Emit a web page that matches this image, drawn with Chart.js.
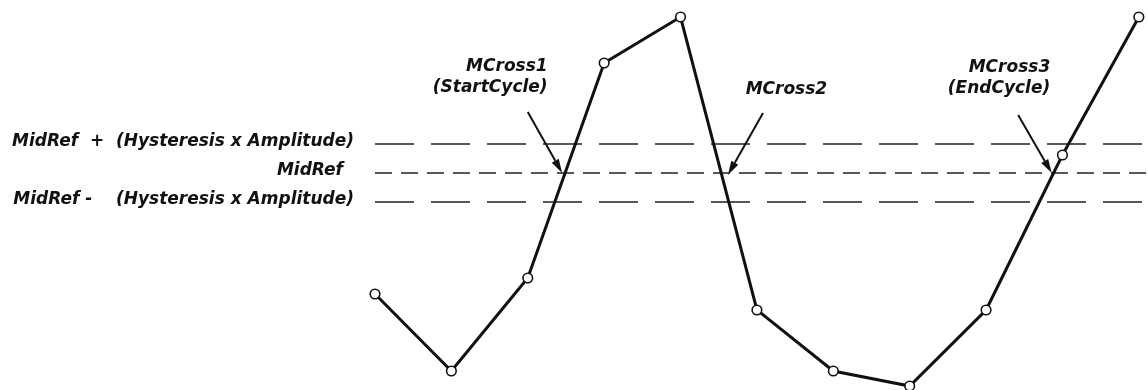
<!DOCTYPE html>
<html>
<head>
<meta charset="utf-8">
<script src="https://cdn.jsdelivr.net/npm/chart.js@4/dist/chart.umd.min.js"></script>
<style>
  html, body { margin: 0; padding: 0; background: #fff; }
  #wrap { width: 1148px; height: 390px; position: relative; }
</style>
</head>
<body>
<div id="wrap"><canvas id="chart_canvas"></canvas></div>
<script>
// sample index along the cycle, and the measured signal at each sample
const steps = [0, 1, 2, 3, 4, 5, 6, 7, 8, 9, 10];
const signal = [-121, -198, -105, 110, 156, -137, -198, -213, -137, 18, 156];

// reference levels: MidRef + hysteresis band, MidRef, MidRef - hysteresis band
const refLevels = [29, 0, -29];
const refLabels = [
  "MidRef  +  (Hysteresis x Amplitude)",
  "MidRef",
  "MidRef -    (Hysteresis x Amplitude)"
];
const xEnd = 10.12;

// callouts: text lines, text anchor (right edge), arrow tail and tip, in data units
const calloutText = [["MCross1", "(StartCycle)"], ["MCross2"], ["MCross3", "(EndCycle)"]];
const calloutAnchorX = [2.26, 5.92, 8.84];
const calloutAnchorY = [106, 83, 105];
const arrowTailX = [2.0, 5.08, 8.42];
const arrowTailY = [61, 60, 58];
const arrowTipX = [2.45, 4.62, 8.86];
const arrowTipY = [0, -2, 0];

const labelFont = 'italic bold 17px "DejaVu Sans"';

const refDatasets = refLevels.map(function(level, i)
{
  return {
    data: [{x: 0, y: level}, {x: xEnd, y: level}],
    borderColor: "#222",
    borderWidth: 1.7,
    borderDash: i == 1 ? [17, 9] : [39, 17],
    pointRadius: 0,
    clip: false
  };
});

const annotationPlugin =
{
  id: "annotations",
  afterDatasetsDraw(chart)
  {
    const ctx = chart.ctx;
    const xs = chart.scales.x;
    const ys = chart.scales.y;
    const left = chart.chartArea.left;

    ctx.save();
    ctx.font = labelFont;
    ctx.fillStyle = "#111";
    ctx.textAlign = "right";
    ctx.textBaseline = "middle";

    // level labels to the left of the dashed lines
    refLabels.forEach(function(text, i)
    {
      const gap = i == 1 ? 32 : 21;
      ctx.fillText(text, left - gap, ys.getPixelForValue(refLevels[i]) - 2);
    });

    // callout texts
    calloutText.forEach(function(lines, i)
    {
      const x = xs.getPixelForValue(calloutAnchorX[i]);
      const y = ys.getPixelForValue(calloutAnchorY[i]);
      lines.forEach(function(line, j)
      {
        ctx.fillText(line, x, y + j * 21);
      });
    });

    // arrows
    ctx.strokeStyle = "#111";
    ctx.lineWidth = 2;
    for(let i = 0; i < arrowTipX.length; i++)
    {
      const x0 = xs.getPixelForValue(arrowTailX[i]);
      const y0 = ys.getPixelForValue(arrowTailY[i]);
      const x1 = xs.getPixelForValue(arrowTipX[i]);
      const y1 = ys.getPixelForValue(arrowTipY[i]);
      const ang = Math.atan2(y1 - y0, x1 - x0);
      const headLen = 14, headHalf = 4;
      const bx = x1 - headLen * Math.cos(ang);
      const by = y1 - headLen * Math.sin(ang);

      ctx.beginPath();
      ctx.moveTo(x0, y0);
      ctx.lineTo(bx, by);
      ctx.stroke();

      ctx.beginPath();
      ctx.moveTo(x1, y1);
      ctx.lineTo(bx + headHalf * Math.sin(ang), by - headHalf * Math.cos(ang));
      ctx.lineTo(bx - headHalf * Math.sin(ang), by + headHalf * Math.cos(ang));
      ctx.closePath();
      ctx.fill();
    }
    ctx.restore();
  }
};

const config =
{
  type: "line",
  data:
  {
    datasets: [
      {
        data: steps.map(function(s, i) { return {x: s, y: signal[i]}; }),
        borderColor: "#111",
        borderWidth: 3,
        pointRadius: 4.8,
        pointBorderWidth: 1.6,
        pointBorderColor: "#111",
        pointBackgroundColor: "#fff",
        tension: 0,
        clip: false
      }
    ].concat(refDatasets)
  },
  options:
  {
    responsive: true,
    maintainAspectRatio: false,
    animation: false,
    events: [],
    layout: { autoPadding: false, padding: { left: 375, right: 0, top: 0, bottom: 0 } },
    plugins: { legend: { display: false }, tooltip: { enabled: false } },
    scales:
    {
      x: { type: "linear", min: 0, max: xEnd, display: false },
      y: { type: "linear", min: -217, max: 173, display: false }
    }
  },
  plugins: [annotationPlugin]
};

new Chart(document.getElementById("chart_canvas"), config);
</script>
</body>
</html>
